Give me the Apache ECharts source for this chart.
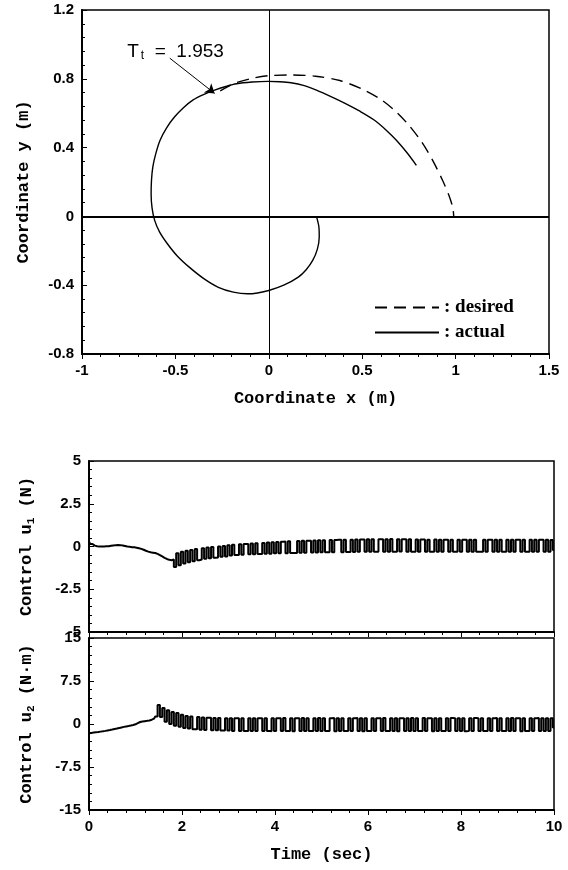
<!DOCTYPE html>
<html>
<head>
<meta charset="utf-8">
<script src="https://cdn.jsdelivr.net/npm/echarts@6/dist/echarts.min.js"></script>
<style>
html,body{margin:0;padding:0;background:#fff}
#chart{width:568px;height:870px}
</style>
</head>
<body>
<div id="chart"></div>
<script>
// trajectory in the plane (m)
var desiredPath = [[-0.26,0.73],[-0.18,0.775],[-0.08,0.805],[0.0,0.818],[0.12,0.822],[0.25,0.815],[0.38,0.79],[0.5,0.74],
	[0.6,0.68],[0.68,0.61],[0.75,0.53],[0.82,0.43],[0.88,0.32],[0.93,0.21],[0.965,0.12],[0.985,0.05],[0.99,0.0]];
var actualPath = [[0.255,0.0],[0.268,-0.06],[0.27,-0.12],[0.26,-0.19],[0.235,-0.256],[0.20,-0.31],[0.158,-0.353],[0.08,-0.40],
	[0.0,-0.431],[-0.06,-0.445],[-0.115,-0.45],[-0.19,-0.44],[-0.27,-0.412],[-0.35,-0.36],[-0.426,-0.295],[-0.49,-0.23],
	[-0.543,-0.159],[-0.585,-0.09],[-0.611,-0.023],[-0.625,0.05],[-0.63,0.132],[-0.628,0.21],[-0.621,0.287],[-0.605,0.365],
	[-0.582,0.443],[-0.547,0.515],[-0.504,0.579],[-0.457,0.632],[-0.407,0.676],[-0.35,0.708],[-0.29,0.734],[-0.23,0.755],
	[-0.173,0.771],[-0.09,0.781],[-0.004,0.785],[0.06,0.783],[0.119,0.777],[0.19,0.76],[0.255,0.734],[0.33,0.698],
	[0.411,0.656],[0.49,0.61],[0.566,0.559],[0.63,0.50],[0.683,0.443],[0.74,0.37],[0.79,0.297]];
var ttArrow = [[-0.53,0.92],[-0.29,0.715]];
var ttLabelAt = [-0.785,0.955];
var ttValue = '1.953';

// control signals, sampled every timeStep seconds from t = 0
var timeStep = 0.05;
var u1Values = [
	0.30,0.15,0.05,0.02,0.00,0.00,0.00,0.01,0.02,0.04,0.06,0.08,0.09,0.08,0.06,0.03,0.00,-0.02,-0.04,-0.05,
	-0.07,-0.10,-0.14,-0.19,-0.25,-0.30,-0.34,-0.36,-0.38,-0.43,-0.50,-0.58,-0.66,-0.73,-0.78,-0.80,-0.76,-1.20,-0.40,-1.10,
	-0.30,-1.00,-0.25,-0.92,-0.20,-0.86,-0.15,-0.80,-0.76,-0.10,-0.72,-0.06,-0.68,-0.03,-0.66,-0.64,0.00,-0.60,0.03,-0.58,
	0.08,-0.52,0.10,-0.50,-0.50,0.13,-0.48,0.15,0.15,-0.46,0.17,-0.45,0.19,-0.44,-0.44,0.21,-0.42,0.23,-0.42,0.25,
	-0.40,0.27,-0.40,0.28,0.29,-0.39,0.30,-0.38,-0.38,-0.38,0.32,-0.37,0.33,-0.36,0.34,0.34,-0.35,0.35,-0.35,0.36,
	-0.34,0.37,-0.34,-0.34,0.38,-0.33,0.38,0.39,0.39,-0.33,0.40,-0.32,-0.32,0.40,-0.32,0.41,-0.31,0.41,0.41,-0.31,
	0.42,-0.31,0.42,-0.30,-0.30,0.42,0.42,-0.30,0.43,-0.30,0.44,-0.30,-0.30,0.43,-0.29,0.42,0.42,-0.30,0.42,-0.30,
	-0.30,0.41,-0.30,0.41,0.41,-0.31,0.40,-0.30,-0.30,0.41,-0.30,0.40,-0.30,0.40,0.40,-0.31,0.40,-0.30,-0.30,0.40,
	-0.30,0.40,0.40,-0.31,0.39,-0.30,0.40,-0.30,-0.30,-0.30,0.40,-0.30,0.39,0.39,-0.30,0.40,-0.31,0.40,-0.30,-0.30,
	0.39,-0.30,0.40,-0.30,0.40,0.40,-0.30,0.39,-0.31,-0.31,0.40,-0.30,0.40,-0.30,0.39,0.39,-0.30,0.40,-0.30,0.38,-0.20];
var u2Values = [
	-1.60,-1.55,-1.50,-1.45,-1.40,-1.33,-1.27,-1.20,-1.12,-1.05,-0.97,-0.88,-0.80,-0.70,-0.60,-0.50,-0.42,-0.35,-0.27,-0.18,
	-0.05,0.15,0.35,0.45,0.50,0.55,0.62,0.75,0.95,1.30,3.30,1.20,2.80,0.40,2.40,0.00,2.10,-0.30,1.90,-0.50,
	1.60,-0.70,1.40,-0.80,1.30,-0.90,-0.90,1.20,-1.00,1.15,-1.05,1.10,1.10,-1.10,1.05,-1.10,1.05,-1.15,-1.15,1.00,
	-1.15,1.00,-1.20,1.00,1.00,-1.20,1.00,-1.20,-1.20,1.00,-1.20,1.00,-1.20,1.00,1.00,-1.20,1.00,-1.20,-1.25,1.00,
	-1.20,1.00,1.00,-1.20,1.05,-1.20,-1.20,1.00,-1.25,1.00,1.00,-1.20,1.05,-1.20,1.00,-1.20,-1.20,1.00,-1.20,1.05,
	-1.20,1.00,-1.20,-1.20,1.00,1.05,-1.25,1.00,-1.20,1.00,-1.20,-1.20,1.00,-1.20,1.00,1.05,-1.20,1.00,-1.25,1.00,
	-1.20,-1.20,1.00,-1.20,1.00,1.00,-1.20,1.05,-1.20,-1.20,1.00,-1.20,1.00,-1.25,1.00,1.00,-1.20,1.00,-1.20,1.05,
	-1.20,1.00,-1.20,-1.20,1.05,-1.20,1.00,1.00,-1.25,1.00,-1.20,1.00,-1.20,-1.20,1.00,-1.20,1.05,1.00,-1.20,1.00,
	-1.20,1.00,-1.25,-1.20,1.00,-1.20,1.05,1.00,-1.20,1.00,-1.20,-1.20,1.00,-1.20,1.00,1.05,-1.20,1.00,-1.20,-1.20,
	1.00,-1.20,1.05,-1.20,1.00,1.00,-1.25,1.00,-1.20,-1.20,1.00,-1.20,1.00,1.05,-1.20,1.00,-1.20,1.00,-1.20,1.00,-0.60];

var mono = '"Liberation Mono", "DejaVu Sans Mono", monospace';
var serif = '"Liberation Serif", "DejaVu Serif", serif';
var sans = '"Liberation Sans Narrow", "Liberation Sans", Arial, sans-serif';

function toSeries(vals){
	return vals.map(function(v, i){ return [+(i * timeStep).toFixed(2), v]; });
}

// shared look of the axes
function axisBase(grid, min, max, step, isX, extra){
	var a = {
		type:'value', gridIndex:grid, min:min, max:max, interval:step,
		splitLine:{show:false},
		axisLine:{onZero:false, lineStyle:{color:'#000', width:2}},
		axisTick:{inside:!isX, length:5, lineStyle:{color:'#000'}},
		minorTick:{show:true, splitNumber:5, length:3, lineStyle:{color:'#000'}},
		axisLabel:{color:'#000', fontFamily:sans, fontWeight:'bold', fontSize:15, margin:isX ? 9 : 8},
		nameLocation:'middle',
		nameTextStyle:{color:'#000', fontFamily:mono, fontWeight:'bold', fontSize:17}
	};
	for (var k in extra) a[k] = extra[k];
	return a;
}

var subRich = {s:{fontFamily:mono, fontWeight:'bold', fontSize:11, padding:[9,0,0,0]}};

var chart = echarts.init(document.getElementById('chart'));
var option = {
	animation:false,
	backgroundColor:'#fff',
	grid:[
		{left:82, top:10, width:467, height:344, show:true, borderColor:'#000', borderWidth:1.5},
		{left:89, top:461, width:465, height:171, show:true, borderColor:'#000', borderWidth:1.5},
		{left:89, top:638, width:465, height:172, show:true, borderColor:'#000', borderWidth:1.5}
	],
	xAxis:[
		axisBase(0, -1, 1.5, 0.5, true, {name:'Coordinate x (m)', nameGap:36}),
		axisBase(1, 0, 10, 2, true, {axisLabel:{show:false}}),
		axisBase(2, 0, 10, 2, true, {name:'Time (sec)', nameGap:36})
	],
	yAxis:[
		axisBase(0, -0.8, 1.2, 0.4, false, {name:'Coordinate y (m)', nameGap:50}),
		axisBase(1, -5, 5, 2.5, false, {name:'Control u{s|1} (N)', nameGap:52}),
		axisBase(2, -15, 15, 7.5, false, {name:'Control u{s|2} (N·m)', nameGap:52})
	],
	legend:{
		orient:'vertical', left:369, top:293, itemWidth:64, itemHeight:14, itemGap:6,
		data:['desired','actual'],
		formatter:': {name}',
		itemStyle:{opacity:0},
		textStyle:{color:'#000', fontFamily:serif, fontWeight:'bold', fontSize:19}
	},
	series:[
		{
			name:'desired', type:'line', xAxisIndex:0, yAxisIndex:0,
			data:desiredPath, symbol:'none', smooth:0.3,
			lineStyle:{color:'#000', width:1.4, type:[12,7]}
		},
		{
			name:'actual', type:'line', xAxisIndex:0, yAxisIndex:0,
			data:actualPath, symbol:'none', smooth:0.3,
			lineStyle:{color:'#000', width:1.4},
			markLine:{
				silent:true, symbol:['none','none'], label:{show:false},
				lineStyle:{color:'#000', type:'solid', width:1},
				data:[
					{xAxis:0},
					{yAxis:0, lineStyle:{width:2}},
					[{coord:ttArrow[0], symbol:'none'}, {coord:ttArrow[1], symbol:'arrow', symbolSize:9}]
				]
			},
			markPoint:{
				silent:true,
				data:[{coord:ttLabelAt, symbol:'circle', symbolSize:0,
					label:{show:true, position:'right', formatter:'{t|T}{s|t}{t|  =  ' + ttValue + '}',
						rich:{t:{fontFamily:sans, fontSize:19, color:'#000'}, s:{fontFamily:sans, fontSize:12, color:'#000', padding:[7,0,0,2]}}}}]
			}
		},
		{
			name:'u1', type:'line', xAxisIndex:1, yAxisIndex:1,
			data:toSeries(u1Values), symbol:'none', step:'middle',
			lineStyle:{color:'#000', width:2}
		},
		{
			name:'u2', type:'line', xAxisIndex:2, yAxisIndex:2,
			data:toSeries(u2Values), symbol:'none', step:'middle',
			lineStyle:{color:'#000', width:2}
		}
	]
};
option.yAxis[1].nameTextStyle.rich = subRich;
option.yAxis[2].nameTextStyle.rich = subRich;
chart.setOption(option);
</script>
</body>
</html>
